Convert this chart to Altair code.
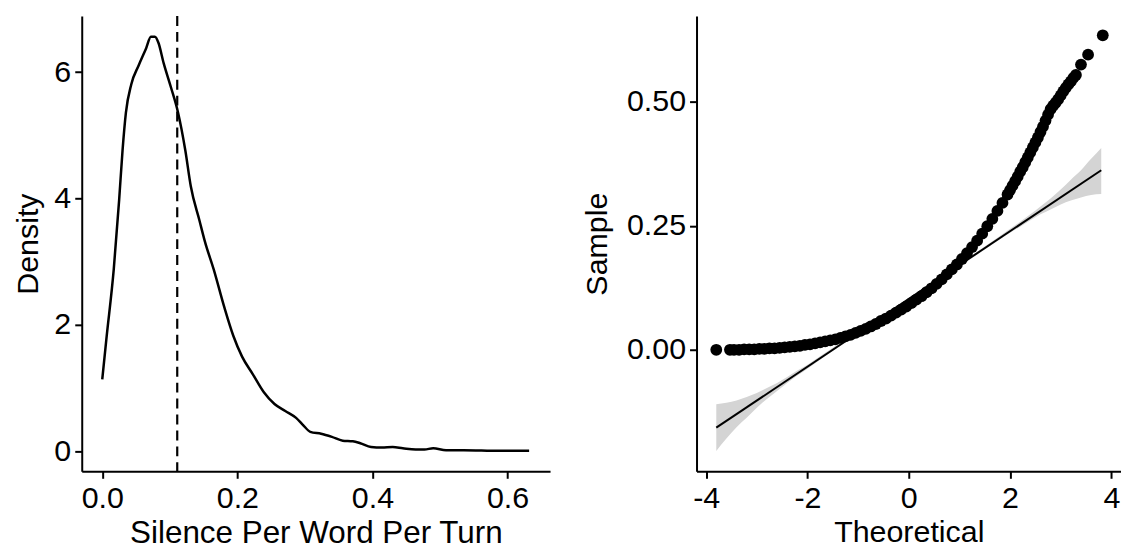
import altair as alt
import pandas as pd

# ---- Left panel: density of silence per word per turn ----
dens_x = [0.000, 0.006, 0.017, 0.025, 0.030, 0.035, 0.043, 0.054, 0.065, 0.072,
          0.078, 0.083, 0.091, 0.102, 0.112, 0.123, 0.131, 0.144, 0.152, 0.165,
          0.181, 0.194, 0.207, 0.223, 0.239, 0.255, 0.271, 0.287, 0.297, 0.308,
          0.324, 0.340, 0.356, 0.371, 0.382, 0.398, 0.414, 0.430, 0.445, 0.464,
          0.477, 0.490, 0.509, 0.535, 0.588, 0.632]
dens_y = [1.14, 1.77, 2.88, 3.98, 4.76, 5.36, 5.81, 6.11, 6.38, 6.56,
          6.56, 6.47, 6.14, 5.75, 5.37, 4.76, 4.20, 3.65, 3.32, 2.88,
          2.27, 1.83, 1.50, 1.22, 0.94, 0.75, 0.64, 0.53, 0.42, 0.31,
          0.28, 0.23, 0.17, 0.16, 0.13, 0.07, 0.06, 0.07, 0.05, 0.03,
          0.03, 0.05, 0.02, 0.02, 0.01, 0.01]
mean_line = [0.111]

# ---- Right panel: normal QQ plot ----
qq_theoretical = [-3.80, -3.53, -3.45, -3.35, -3.25, -3.15, -3.05, -2.95, -2.85, -2.75,
                  -2.65, -2.55, -2.45, -2.35, -2.25, -2.15, -2.05, -1.95, -1.85, -1.75,
                  -1.65, -1.55, -1.45, -1.35, -1.25, -1.15, -1.05, -0.95, -0.85, -0.75,
                  -0.65, -0.55, -0.45, -0.35, -0.25, -0.15, -0.05, 0.05, 0.15, 0.25,
                  0.35, 0.45, 0.55, 0.65, 0.75, 0.85, 0.95, 1.05, 1.15, 1.25,
                  1.35, 1.45, 1.55, 1.65, 1.75, 1.85, 1.95, 2.00, 2.05, 2.10,
                  2.15, 2.20, 2.25, 2.30, 2.35, 2.40, 2.45, 2.50, 2.55, 2.60,
                  2.65, 2.70, 2.75, 2.80, 2.85, 2.90, 2.95, 3.00, 3.05, 3.10,
                  3.15, 3.20, 3.25, 3.30, 3.40, 3.54, 3.83]
qq_sample = [0.000, 0.000, 0.000, 0.000, 0.001, 0.001, 0.001, 0.002, 0.002, 0.003,
             0.003, 0.004, 0.005, 0.006, 0.007, 0.008, 0.010, 0.011, 0.013, 0.015,
             0.017, 0.019, 0.021, 0.024, 0.027, 0.030, 0.034, 0.038, 0.042, 0.047,
             0.052, 0.058, 0.063, 0.069, 0.075, 0.081, 0.087, 0.094, 0.101, 0.108,
             0.116, 0.124, 0.133, 0.142, 0.152, 0.162, 0.172, 0.183, 0.195, 0.207,
             0.220, 0.234, 0.249, 0.264, 0.280, 0.296, 0.313, 0.322, 0.331, 0.340,
             0.349, 0.359, 0.368, 0.378, 0.388, 0.398, 0.408, 0.418, 0.428, 0.439,
             0.450, 0.462, 0.474, 0.485, 0.492, 0.498, 0.505, 0.513, 0.521, 0.528,
             0.535, 0.541, 0.548, 0.554, 0.575, 0.595, 0.634]

ref_x = [-3.80, 3.80]
ref_y = [-0.157, 0.362]

band_x = [-3.8, -3.6, -3.4, -3.2, -3.0, -2.8, -2.6, -2.4, -2.2, -2.0, -1.5, -1.0, 0.0,
          1.0, 1.5, 2.0, 2.2, 2.4, 2.6, 2.8, 3.0, 3.2, 3.4, 3.6, 3.8]
band_lo = [-0.204, -0.179, -0.156, -0.137, -0.117, -0.099, -0.083, -0.067, -0.052, -0.038,
           -0.002, 0.0325, 0.101, 0.1685, 0.202, 0.236, 0.248, 0.261, 0.273, 0.283,
           0.293, 0.301, 0.307, 0.312, 0.314]
band_hi = [-0.110, -0.107, -0.102, -0.095, -0.087, -0.077, -0.067, -0.055, -0.042, -0.030,
           0.004, 0.0375, 0.105, 0.1735, 0.208, 0.244, 0.258, 0.273, 0.289, 0.305,
           0.323, 0.343, 0.362, 0.385, 0.407]

FONT = "Liberation Sans"
FS = 30.5

dens_df = pd.DataFrame({"x": dens_x, "y": dens_y})
mean_df = pd.DataFrame({"m": mean_line})
qq_df = pd.DataFrame({"t": qq_theoretical, "s": qq_sample})
ref_df = pd.DataFrame({"t": ref_x, "s": ref_y})
band_df = pd.DataFrame({"t": band_x, "lo": band_lo, "hi": band_hi})

lx = alt.X("x:Q", scale=alt.Scale(domain=[-0.0304, 0.663], nice=False, zero=False),
           axis=alt.Axis(values=[0, 0.2, 0.4, 0.6], format=".1f",
                         title="Silence Per Word Per Turn", titleFontSize=31.5))
ly = alt.Y("y:Q", scale=alt.Scale(domain=[-0.315, 6.89], nice=False, zero=False),
           axis=alt.Axis(values=[0, 2, 4, 6], format="d", title="Density",
                         titlePadding=10))

dens_line = alt.Chart(dens_df).mark_line(
    color="black", strokeWidth=2.5, interpolate="monotone"
).encode(x=lx, y=ly)

vline = alt.Chart(mean_df).mark_rule(
    color="black", strokeWidth=2.2, strokeDash=[10, 6]
).encode(x="m:Q")

left = alt.layer(dens_line, vline).properties(width=470, height=457)

rx_scale = alt.Scale(domain=[-4.19, 4.19], nice=False, zero=False)
ry_scale = alt.Scale(domain=[-0.245, 0.673], nice=False, zero=False)
rx_axis = alt.Axis(values=[-4, -2, 0, 2, 4], labelExpr="'' + datum.value",
                   title="Theoretical")
ry_axis = alt.Axis(values=[0, 0.25, 0.5], format=".2f", title="Sample", titlePadding=14)

band = alt.Chart(band_df).mark_area(color="#d4d4d4", interpolate="monotone").encode(
    x=alt.X("t:Q", scale=rx_scale, axis=rx_axis),
    y=alt.Y("lo:Q", scale=ry_scale, axis=ry_axis),
    y2="hi:Q",
)
ref = alt.Chart(ref_df).mark_line(color="black", strokeWidth=2).encode(
    x=alt.X("t:Q", scale=rx_scale, axis=rx_axis),
    y=alt.Y("s:Q", scale=ry_scale, axis=ry_axis),
)
pts = alt.Chart(qq_df).mark_circle(color="black", opacity=1, size=140).encode(
    x=alt.X("t:Q", scale=rx_scale, axis=rx_axis),
    y=alt.Y("s:Q", scale=ry_scale, axis=ry_axis),
)

right = alt.layer(band, ref, pts).properties(width=426, height=457)

chart = alt.hconcat(left, right, spacing=32).properties(
    padding={"left": 6, "top": 5, "right": 0, "bottom": 0}
).configure_view(stroke=None).configure_axis(
    grid=False,
    domainColor="black",
    domainWidth=2,
    tickColor="black",
    tickWidth=2,
    tickSize=7,
    labelFont=FONT,
    labelFontSize=FS,
    labelColor="black",
    labelPadding=4,
    titleFont=FONT,
    titleFontSize=FS,
    titleFontWeight="normal",
    titleColor="black",
).configure_axisX(titlePadding=4, labelPadding=5)

chart.save("out.html", embed_options={"renderer": "svg", "actions": False})
